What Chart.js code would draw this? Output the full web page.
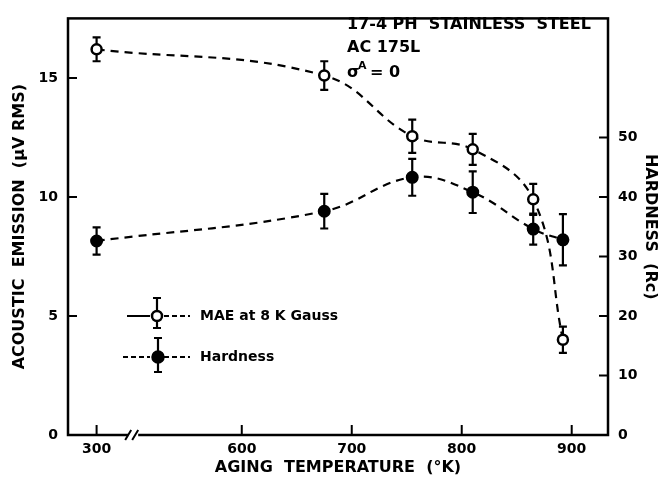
<!DOCTYPE html>
<html>
<head>
<meta charset="utf-8">
<script src="https://cdn.jsdelivr.net/npm/chart.js@4.4.1/dist/chart.umd.min.js"></script>
<style>
  html, body { margin: 0; padding: 0; background: #fff; }
</style>
</head>
<body>
<canvas id="grafica" width="660" height="485"></canvas>
<script>
// temperatura de envejecimiento (K) de cada probeta
const temperaturas = [300, 675, 755, 810, 865, 892];

// MAE a 8 kGauss, µV RMS (eje izquierdo)
const mae = [16.2, 15.1, 12.55, 12.0, 9.9, 4.0];
const maeError = [0.5, 0.6, 0.7, 0.65, 0.65, 0.55];

// dureza Rockwell C (eje derecho)
const dureza = [32.6, 37.6, 43.3, 40.8, 34.6, 32.8];
const durezaError = [2.3, 2.9, 3.1, 3.5, 2.6, 4.3];

const xTicks = [300, 600, 700, 800, 900];
const leftTicks = [0, 5, 10, 15];
const rightTicks = [0, 10, 20, 30, 40, 50];

const FUENTE = 'DejaVu Sans';

// el eje X esta cortado entre 300 y 600 K
const SALTO = 168;
const ejeX = t => t < 450 ? t + SALTO : t;

function puntos(valores) {
  return temperaturas.map((t, i) => ({ x: ejeX(t), y: valores[i] }));
}

function barraError(ctx, x, yArriba, yAbajo) {
  ctx.beginPath();
  ctx.moveTo(x, yArriba);
  ctx.lineTo(x, yAbajo);
  ctx.moveTo(x - 4, yArriba);
  ctx.lineTo(x + 4, yArriba);
  ctx.moveTo(x - 4, yAbajo);
  ctx.lineTo(x + 4, yAbajo);
  ctx.stroke();
}

function marcador(ctx, x, y, relleno) {
  ctx.beginPath();
  ctx.arc(x, y, relleno ? 5.5 : 5, 0, Math.PI * 2);
  ctx.fillStyle = relleno ? '#000' : '#fff';
  ctx.fill();
  ctx.lineWidth = 2.5;
  ctx.stroke();
}

// barras de error, debajo de los marcadores
const barrasError = {
  id: 'barrasError',
  beforeDatasetsDraw(chart) {
    const ctx = chart.ctx;
    const errores = [maeError, durezaError];
    ctx.save();
    ctx.strokeStyle = '#000';
    ctx.lineWidth = 2.2;
    chart.data.datasets.forEach((ds, i) => {
      const meta = chart.getDatasetMeta(i);
      const escala = chart.scales[meta.yAxisID];
      meta.data.forEach((p, j) => {
        const v = ds.data[j].y;
        const e = errores[i][j];
        barraError(ctx, p.x, escala.getPixelForValue(v + e), escala.getPixelForValue(v - e));
      });
    });
    ctx.restore();
  }
};

// marco, marcas hacia dentro, corte del eje, leyenda y rotulo
const decoracion = {
  id: 'decoracion',
  afterDraw(chart) {
    const ctx = chart.ctx;
    const a = chart.chartArea;
    const sx = chart.scales.x, sy = chart.scales.y, sy1 = chart.scales.y1;
    ctx.save();
    ctx.strokeStyle = '#000';
    ctx.fillStyle = '#000';
    ctx.lineWidth = 2.5;
    ctx.strokeRect(a.left, a.top, a.right - a.left, a.bottom - a.top);

    ctx.lineWidth = 2;
    ctx.beginPath();
    sy.ticks.forEach(t => {
      const y = sy.getPixelForValue(t.value);
      ctx.moveTo(a.left, y); ctx.lineTo(a.left + 9, y);
    });
    sy1.ticks.forEach(t => {
      const y = sy1.getPixelForValue(t.value);
      ctx.moveTo(a.right, y); ctx.lineTo(a.right - 9, y);
    });
    sx.ticks.forEach(t => {
      const x = sx.getPixelForValue(t.value);
      ctx.moveTo(x, a.bottom); ctx.lineTo(x, a.bottom - 10);
    });
    ctx.stroke();

    // corte //
    const xc = (sx.getPixelForValue(ejeX(300)) + sx.getPixelForValue(600)) / 2 - 36;
    ctx.fillStyle = '#fff';
    ctx.fillRect(xc - 5, a.bottom - 3, 10, 6);
    ctx.beginPath();
    ctx.moveTo(xc - 8, a.bottom + 5); ctx.lineTo(xc - 2, a.bottom - 5);
    ctx.moveTo(xc - 1, a.bottom + 5); ctx.lineTo(xc + 5, a.bottom - 5);
    ctx.stroke();

    // leyenda
    ctx.fillStyle = '#000';
    ctx.lineWidth = 2;
    ctx.beginPath();
    ctx.moveTo(127, 316); ctx.lineTo(150, 316);
    ctx.stroke();
    ctx.setLineDash([5, 3]);
    ctx.beginPath();
    ctx.moveTo(164, 316); ctx.lineTo(190, 316);
    ctx.moveTo(123, 357); ctx.lineTo(150, 357);
    ctx.moveTo(164, 357); ctx.lineTo(190, 357);
    ctx.stroke();
    ctx.setLineDash([]);
    ctx.lineWidth = 2.2;
    barraError(ctx, 157, 298, 328);
    barraError(ctx, 158, 338, 372);
    ctx.strokeStyle = '#000';
    marcador(ctx, 157, 316, false);
    marcador(ctx, 158, 357, true);
    ctx.fillStyle = '#000';
    ctx.font = 'bold 14px ' + FUENTE;
    ctx.textBaseline = 'middle';
    ctx.textAlign = 'left';
    ctx.fillText(chart.data.datasets[0].label, 200, 316);
    ctx.fillText(chart.data.datasets[1].label, 200, 357);

    // rotulo del material
    ctx.font = 'bold 16px ' + FUENTE;
    ctx.fillText('17-4 PH  STAINLESS  STEEL', 347, 25);
    ctx.fillText('AC 175L', 347, 48);
    ctx.fillText('σ', 347, 73);
    ctx.font = 'bold 11px ' + FUENTE;
    ctx.fillText('A', 358, 66);
    ctx.font = 'bold 16px ' + FUENTE;
    ctx.fillText('= 0', 370, 73);
    ctx.restore();
  }
};

const negrita = size => ({ family: FUENTE, size: size, weight: 'bold' });

new Chart(document.getElementById('grafica').getContext('2d'), {
  type: 'line',
  data: {
    datasets: [
      {
        label: 'MAE at 8 K Gauss',
        data: puntos(mae),
        yAxisID: 'y',
        borderColor: '#000',
        borderWidth: 2.2,
        borderDash: [8, 6],
        tension: 0.4,
        pointRadius: 5,
        pointBackgroundColor: '#fff',
        pointBorderColor: '#000',
        pointBorderWidth: 2.5,
        fill: false
      },
      {
        label: 'Hardness',
        data: puntos(dureza),
        yAxisID: 'y1',
        borderColor: '#000',
        borderWidth: 2.2,
        borderDash: [8, 6],
        tension: 0.4,
        pointRadius: 5.5,
        pointBackgroundColor: '#000',
        pointBorderColor: '#000',
        pointBorderWidth: 2,
        fill: false
      }
    ]
  },
  options: {
    responsive: false,
    animation: false,
    layout: { padding: { top: 13, left: 0, right: 0, bottom: 0 } },
    plugins: {
      legend: { display: false },
      tooltip: { enabled: false }
    },
    scales: {
      x: {
        type: 'linear',
        min: 442,
        max: 933,
        grid: { display: false, drawTicks: false },
        border: { display: false },
        afterBuildTicks: s => { s.ticks = xTicks.map(t => ({ value: ejeX(t) })); },
        afterFit: s => { s.height = 50; },
        ticks: {
          color: '#000',
          font: negrita(14),
          padding: 6,
          maxRotation: 0,
          callback: (v, i) => xTicks[i]
        },
        title: {
          display: true,
          text: 'AGING  TEMPERATURE  (°K)',
          color: '#000',
          font: negrita(16),
          padding: { top: 0, bottom: 8 }
        }
      },
      y: {
        position: 'left',
        min: 0,
        max: 17.5,
        grid: { display: false, drawTicks: false },
        border: { display: false },
        afterBuildTicks: s => { s.ticks = leftTicks.map(v => ({ value: v })); },
        afterFit: s => { s.width = 68; },
        ticks: { color: '#000', font: negrita(14), padding: 10 },
        title: {
          display: true,
          text: 'ACOUSTIC  EMISSION  (μV RMS)',
          color: '#000',
          font: negrita(16),
          padding: { top: 10, bottom: 0 }
        }
      },
      y1: {
        position: 'right',
        min: 0,
        max: 70,
        grid: { display: false, drawTicks: false },
        border: { display: false },
        afterBuildTicks: s => { s.ticks = rightTicks.map(v => ({ value: v })); },
        afterFit: s => { s.width = 52; },
        ticks: { color: '#000', font: negrita(14), padding: 10 },
        title: {
          display: true,
          text: 'HARDNESS  (Rc)',
          color: '#000',
          font: negrita(16),
          padding: { top: 0, bottom: 0 }
        }
      }
    }
  },
  plugins: [barrasError, decoracion]
});
</script>
</body>
</html>
